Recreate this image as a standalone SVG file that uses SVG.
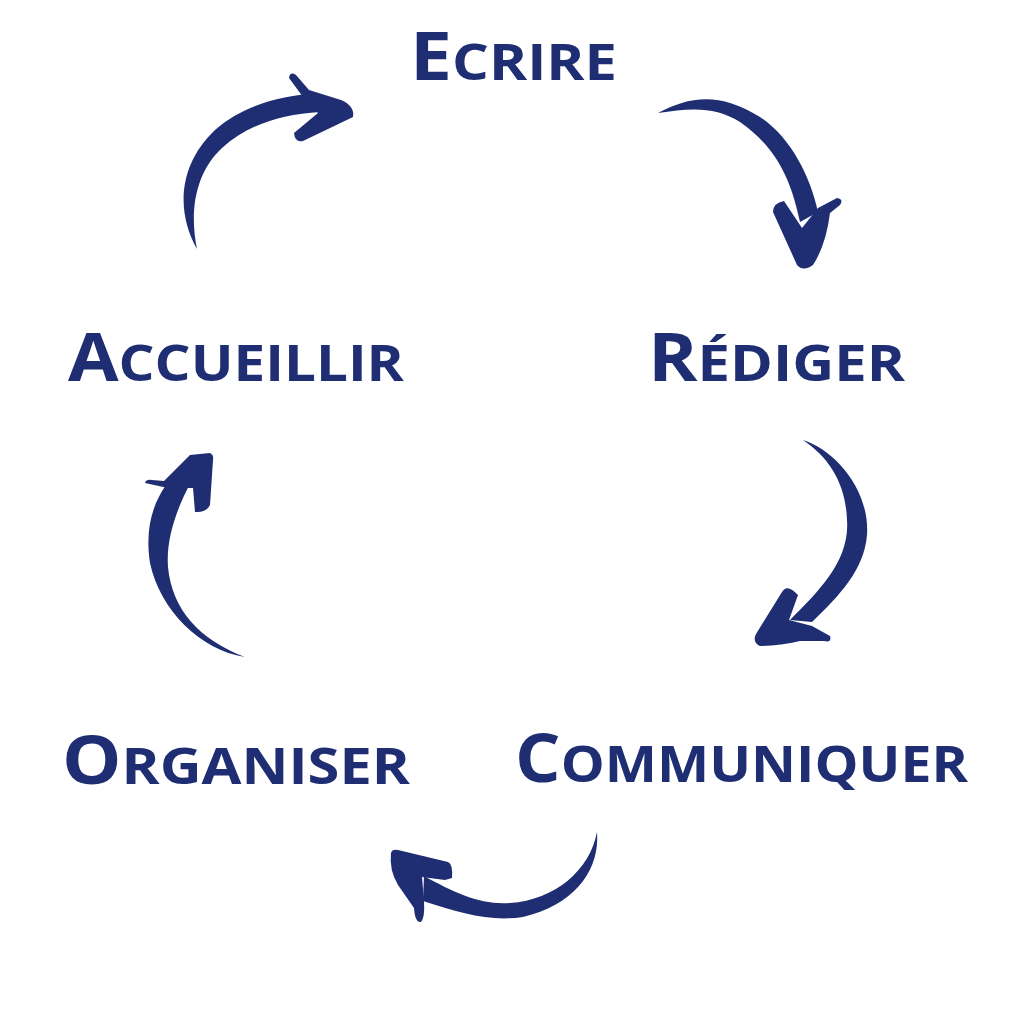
<svg xmlns="http://www.w3.org/2000/svg" width="1024" height="1024" viewBox="0 0 1024 1024">
<style>
.lbl{font-family:"Open Sans","Liberation Sans",sans-serif;font-weight:700;fill:#1f2d73}
.big{font-size:66px}
.sm{font-size:51px}
.arr{fill:#1f2d73}
</style>
<rect width="1024" height="1024" fill="#fff"/>
<g id="connectors">
<path class="arr" d="M197,249 C176,212 178,165 215,130 C242,106 278,96 318,93 L320,112 C280,114 246,126 222,148 C196,172 189,210 197,249 Z"/>
<path class="arr" d="M289,78 Q290,71 296,75 L309,90 L341,100 Q355,106 353,117 L303,141 Q295,143 294,133 L318,113 L303,97 Z"/>
<path class="arr" d="M658,113 C690,96 720,92 760,117 C790,137 810,175 818,212 L800,222 C792,185 780,150 740,122 C715,106 690,108 658,113 Z"/>
<path class="arr" d="M773,212 Q773,203 784,201 L802,228 L818,208 L837,198 Q844,199 840,205 L830,213 Q826,245 813,265 Q803,272 797,265 Z"/>
<path class="arr" d="M803,440 C835,450 870,490 867,535 C864,570 840,595 812,622 L790,620 C820,590 850,560 847,520 C846,485 830,458 803,440 Z"/>
<path class="arr" d="M782,592 Q787,583 798,595 L789,620 L812,626 L830,636 Q832,643 824,641 L800,641 Q780,646 760,646 Q752,642 756,634 Z"/>
<path class="arr" d="M597,832 C600,870 575,905 523,917 C490,922 460,913 423,901 L424,876 C455,893 480,905 510,903 C555,900 590,870 597,832 Z"/>
<path class="arr" d="M391,853 Q392,849 398,850 L448,862 Q453,864 452,878 L445,880 L422,877 L424,901 Q425,918 421,922 Q415,923 414,908 L398,885 Q389,870 391,853 Z"/>
<path class="arr" d="M245,657 C200,650 160,610 150,563 C145,530 152,505 166,485 L190,484 C176,510 166,540 168,567 C172,610 200,640 245,657 Z"/>
<path class="arr" d="M145,483 Q146,479 152,480 L164,481 L190,455 L210,453 Q214,455 213,460 L210,505 Q206,513 195,512 L193,488 L168,488 Z"/>
</g>
<g id="node-ecrire"><text class="lbl" x="410" y="80" textLength="207" lengthAdjust="spacingAndGlyphs"><tspan class="big">E</tspan><tspan class="sm">CRIRE</tspan></text></g>
<g id="node-rediger"><text class="lbl" x="648" y="381" textLength="257" lengthAdjust="spacingAndGlyphs"><tspan class="big">R</tspan><tspan class="sm">ÉDIGER</tspan></text></g>
<g id="node-communiquer"><text class="lbl" x="515" y="782" textLength="453" lengthAdjust="spacingAndGlyphs"><tspan class="big">C</tspan><tspan class="sm">OMMUNIQUER</tspan></text></g>
<g id="node-organiser"><text class="lbl" x="62" y="784" textLength="348" lengthAdjust="spacingAndGlyphs"><tspan class="big">O</tspan><tspan class="sm">RGANISER</tspan></text></g>
<g id="node-accueillir"><text class="lbl" x="68" y="381" textLength="336" lengthAdjust="spacingAndGlyphs"><tspan class="big">A</tspan><tspan class="sm">CCUEILLIR</tspan></text></g>
</svg>
